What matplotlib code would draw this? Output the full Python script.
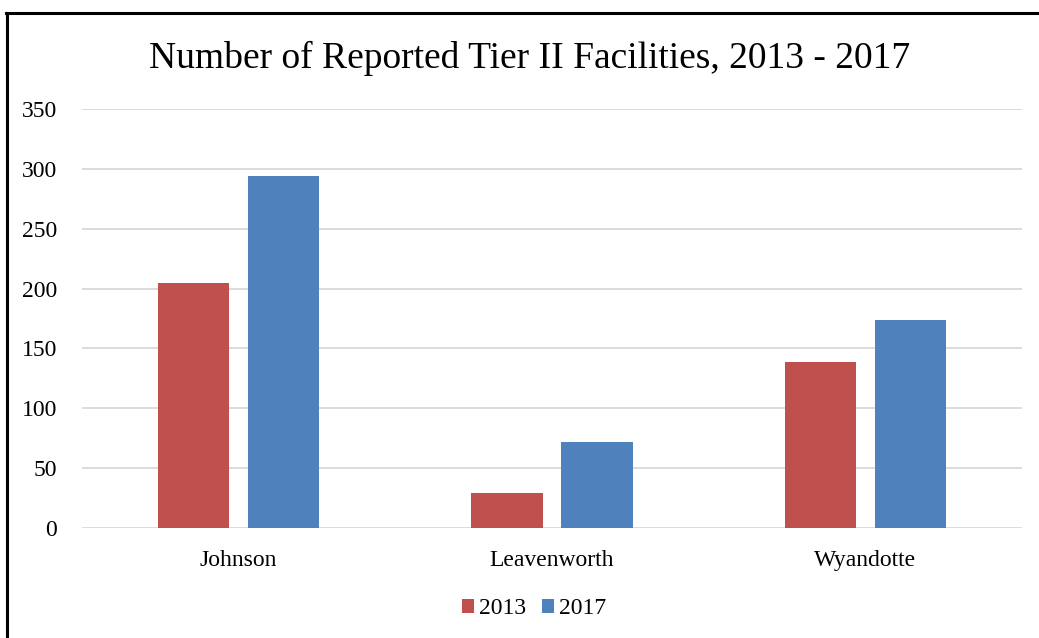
import matplotlib
matplotlib.use("Agg")
import matplotlib.pyplot as plt
import numpy as np
from matplotlib.lines import Line2D
from matplotlib.patches import Patch

plt.rcParams['font.family'] = ['Liberation Serif', 'DejaVu Serif']

counties = ["Johnson", "Leavenworth", "Wyandotte"]
years = ["2013", "2017"]
facilities_2013 = [205, 29, 139]
facilities_2017 = [294, 72, 174]
y_ticks = [0, 50, 100, 150, 200, 250, 300, 350]

red = "#C0504D"
blue = "#4F81BD"

W, H = 1039, 638
fig = plt.figure(figsize=(W / 100, H / 100), dpi=100)

ax = fig.add_axes([82 / W, (H - 528) / H, (1022 - 82) / W, (528 - 109) / H])

x = np.arange(len(counties))
bw = 0.227
off = bw / 2 + 0.03
ax.bar(x - off, facilities_2013, bw, color=red, zorder=3)
ax.bar(x + off, facilities_2017, bw, color=blue, zorder=3)

ax.set_xlim(-0.5, 2.5)
ax.set_ylim(0, 350)
ax.set_yticks(y_ticks)
ax.set_xticks(x)
ax.set_xticklabels(counties)
ax.yaxis.grid(True, color="#D9D9D9", linewidth=1.3, zorder=0)
ax.set_axisbelow(True)
for s in ax.spines.values():
    s.set_visible(False)
ax.tick_params(axis="y", length=0, pad=18, labelsize=17)
ax.tick_params(axis="x", length=0, pad=16, labelsize=17)

fig.text(530 / W, 1 - 58 / H, "Number of Reported Tier II Facilities, 2013 - 2017",
         ha="center", va="center", fontsize=27)

handles = [Patch(facecolor=red), Patch(facecolor=blue)]
fig.legend(handles, years, loc="center", bbox_to_anchor=(534 / W, 1 - 609 / H),
           ncol=2, frameon=False, fontsize=17, handlelength=0.5, handleheight=0.5,
           handletextpad=0.2, columnspacing=0.7)

# frame edges along the left and top
fig.add_artist(Line2D([7 / W, 7 / W], [0, 1 - 13 / H], color="black", linewidth=2.2,
                      transform=fig.transFigure))
fig.add_artist(Line2D([6 / W, 1], [1 - 13 / H, 1 - 13 / H], color="black", linewidth=2.2,
                      transform=fig.transFigure))

fig.savefig("out.png", dpi=100)
